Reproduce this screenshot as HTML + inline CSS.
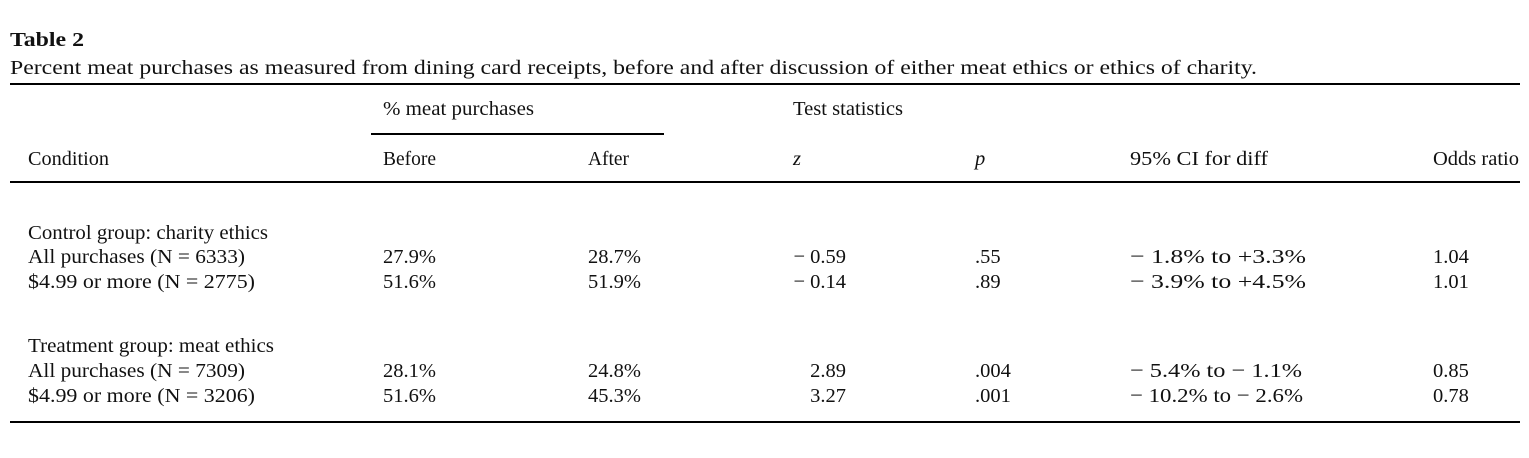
<!DOCTYPE html>
<html><head><meta charset="utf-8"><style>
body{margin:0;background:#fff}
svg text{font-family:"Liberation Serif",serif;font-size:20.5px;fill:#111}
</style></head><body>
<svg width="1529" height="453" xmlns="http://www.w3.org/2000/svg">
<text x="10" y="46" style="font-weight:bold;font-size:20px" textLength="74" lengthAdjust="spacingAndGlyphs">Table 2</text>
<text x="10" y="74" textLength="1247" lengthAdjust="spacingAndGlyphs">Percent meat purchases as measured from dining card receipts, before and after discussion of either meat ethics or ethics of charity.</text>
<rect x="10" y="83" width="1510" height="2" fill="#000"/>
<text x="383" y="115" textLength="151" lengthAdjust="spacingAndGlyphs">% meat purchases</text>
<text x="793" y="115" textLength="110" lengthAdjust="spacingAndGlyphs">Test statistics</text>
<rect x="371" y="133" width="293" height="2" fill="#000"/>
<text x="28" y="165" textLength="81" lengthAdjust="spacingAndGlyphs">Condition</text>
<text x="383" y="165" textLength="53" lengthAdjust="spacingAndGlyphs">Before</text>
<text x="588" y="165" textLength="41" lengthAdjust="spacingAndGlyphs">After</text>
<text x="793" y="165" font-style="italic">z</text>
<text x="975" y="165" font-style="italic">p</text>
<text x="1130" y="165" textLength="138" lengthAdjust="spacingAndGlyphs">95% CI for diff</text>
<text x="1433" y="165" textLength="86" lengthAdjust="spacingAndGlyphs">Odds ratio</text>
<rect x="10" y="181" width="1510" height="2" fill="#000"/>

<text x="28" y="239" textLength="240" lengthAdjust="spacingAndGlyphs">Control group: charity ethics</text>
<text x="28" y="263" textLength="217" lengthAdjust="spacingAndGlyphs">All purchases (N = 6333)</text>
<text x="28" y="288" textLength="227" lengthAdjust="spacingAndGlyphs">$4.99 or more (N = 2775)</text>
<text x="383" y="263">27.9%</text><text x="588" y="263">28.7%</text>
<text x="383" y="288">51.6%</text><text x="588" y="288">51.9%</text>
<text x="846" y="263" text-anchor="end">− 0.59</text>
<text x="846" y="288" text-anchor="end">− 0.14</text>
<text x="975" y="263">.55</text><text x="975" y="288">.89</text>
<text x="1130" y="263" textLength="176" lengthAdjust="spacingAndGlyphs">− 1.8% to +3.3%</text>
<text x="1130" y="288" textLength="176" lengthAdjust="spacingAndGlyphs">− 3.9% to +4.5%</text>
<text x="1433" y="263">1.04</text><text x="1433" y="288">1.01</text>

<text x="28" y="352" textLength="246" lengthAdjust="spacingAndGlyphs">Treatment group: meat ethics</text>
<text x="28" y="377" textLength="217" lengthAdjust="spacingAndGlyphs">All purchases (N = 7309)</text>
<text x="28" y="402" textLength="227" lengthAdjust="spacingAndGlyphs">$4.99 or more (N = 3206)</text>
<text x="383" y="377">28.1%</text><text x="588" y="377">24.8%</text>
<text x="383" y="402">51.6%</text><text x="588" y="402">45.3%</text>
<text x="846" y="377" text-anchor="end">2.89</text>
<text x="846" y="402" text-anchor="end">3.27</text>
<text x="975" y="377">.004</text><text x="975" y="402">.001</text>
<text x="1130" y="377" textLength="172" lengthAdjust="spacingAndGlyphs">− 5.4% to − 1.1%</text>
<text x="1130" y="402" textLength="173" lengthAdjust="spacingAndGlyphs">− 10.2% to − 2.6%</text>
<text x="1433" y="377">0.85</text><text x="1433" y="402">0.78</text>
<rect x="10" y="421" width="1510" height="2" fill="#000"/>
</svg>
</body></html>
